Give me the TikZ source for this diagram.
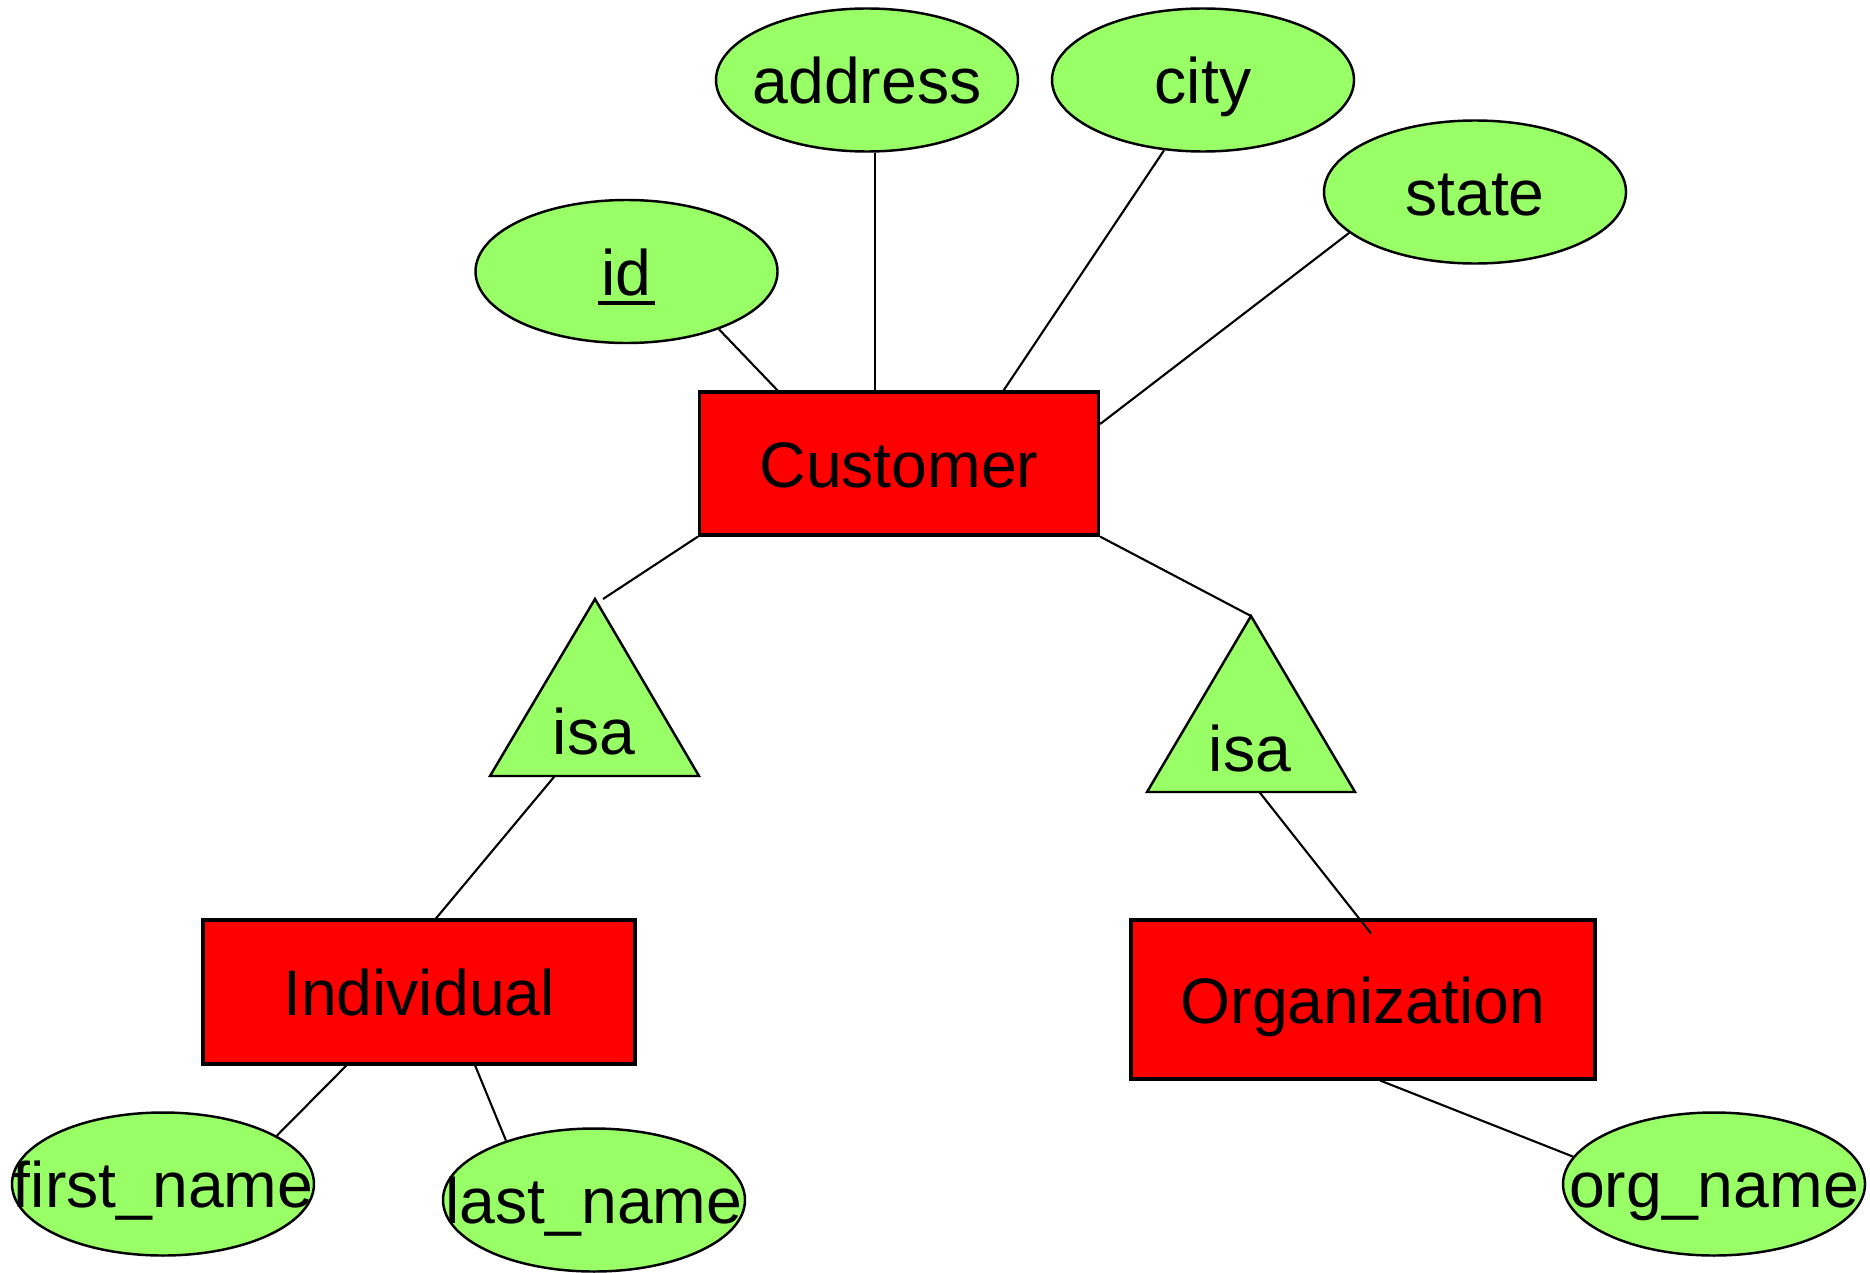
\documentclass[tikz,border=0pt]{standalone}
\usepackage{fontspec}
\setmainfont{Liberation Sans}
\usetikzlibrary{shapes.geometric,calc}
\definecolor{attrgreen}{RGB}{153,255,102}
\definecolor{entityred}{RGB}{255,0,0}
% key attribute: text with a heavy underline
\newcommand\keyattr[1]{\setbox0\hbox{#1}\rlap{\kern-1pt\rule[-2.8pt]{\dimexpr\wd0+2pt\relax}{1.1pt}}\box0}
\begin{document}
\begin{tikzpicture}[x=0.1mm,y=-0.1mm,
  every node/.style={font=\fontsize{18.3pt}{22pt}\selectfont, inner sep=0pt,
    text height=13.5pt, text depth=0pt},
  entity/.style={draw=black, line width=0.9pt, fill=entityred, rectangle},
  attr/.style={draw=black, line width=0.7pt, fill=attrgreen, ellipse,
    minimum width=30.2mm, minimum height=14.3mm},
  isabox/.style={draw=black, line width=0.7pt, fill=attrgreen, line join=miter},
  link/.style={draw=black, line width=0.6pt}]
\useasboundingbox (0,0) rectangle (1870,1272);

% entities
\node[entity, minimum width=39.9mm, minimum height=14.3mm] (cust) at (899,463.5) {Customer};
\node[entity, minimum width=43.2mm, minimum height=14.4mm] (ind) at (419,992) {Individual};
\node[entity, minimum width=46.4mm, minimum height=15.9mm] (org) at (1363,999.5) {Organization};

% attributes
\node[attr] (id) at (626.5,271.5) {\makebox[0pt]{\keyattr{id}}};
\node[attr] (addr) at (867,80) {\makebox[0pt]{address}};
\node[attr] (city) at (1203,80) {\makebox[0pt]{city}};
\node[attr] (state) at (1475,192) {\makebox[0pt]{state}};
\node[attr] (fn) at (163,1184) {\makebox[0pt]{first\_name}};
\node[attr] (ln) at (594,1200) {\makebox[0pt]{last\_name}};
\node[attr] (on) at (1714,1184) {\makebox[0pt]{org\_name}};

% isa triangles
\coordinate (isaLtop) at (595,599);
\coordinate (isaLbl) at (490,776);
\coordinate (isaLbr) at (699,776);
\path[isabox] (isaLtop) -- (isaLbr) -- (isaLbl) -- cycle;
\node (isaLtxt) at (594,731) {isa};

\coordinate (isaRtop) at (1251,616);
\coordinate (isaRbl) at (1147,792);
\coordinate (isaRbr) at (1355,792);
\path[isabox] (isaRtop) -- (isaRbr) -- (isaRbl) -- cycle;
\node (isaRtxt) at (1250,748) {isa};

% attribute links
\draw[link] (id.-32) -- ($(cust.north west)!0.198!(cust.north east)$);
\draw[link] (addr.-84) -- (addr.-84 |- cust.north);
\draw[link] (city.-119) -- ($(cust.north west)!0.76!(cust.north east)$);
\draw[link] (state.-162) -- ($(cust.north east)!0.23!(cust.south east)$);
\draw[link] ($(ind.south west)!0.333!(ind.south east)$) -- (fn.23);
\draw[link] ($(ind.south west)!0.629!(ind.south east)$) -- (ln.146);
\draw[link] ($(org.south west)!0.537!(org.south east)$) -- (on.169);

% specialisation links
\draw[link] (cust.south west) -- ($(isaLtop)+(8,0)$);
\draw[link] (cust.south east) -- (isaRtop);
\draw[link] ($(isaLbl)!0.31!(isaLbr)$) -- ($(ind.north west)!0.539!(ind.north east)$);
\draw[link] ($(isaRbl)!0.54!(isaRbr)$) -- ($(org.north west)!0.517!(org.north east)+(0,15)$);
\end{tikzpicture}
\end{document}
